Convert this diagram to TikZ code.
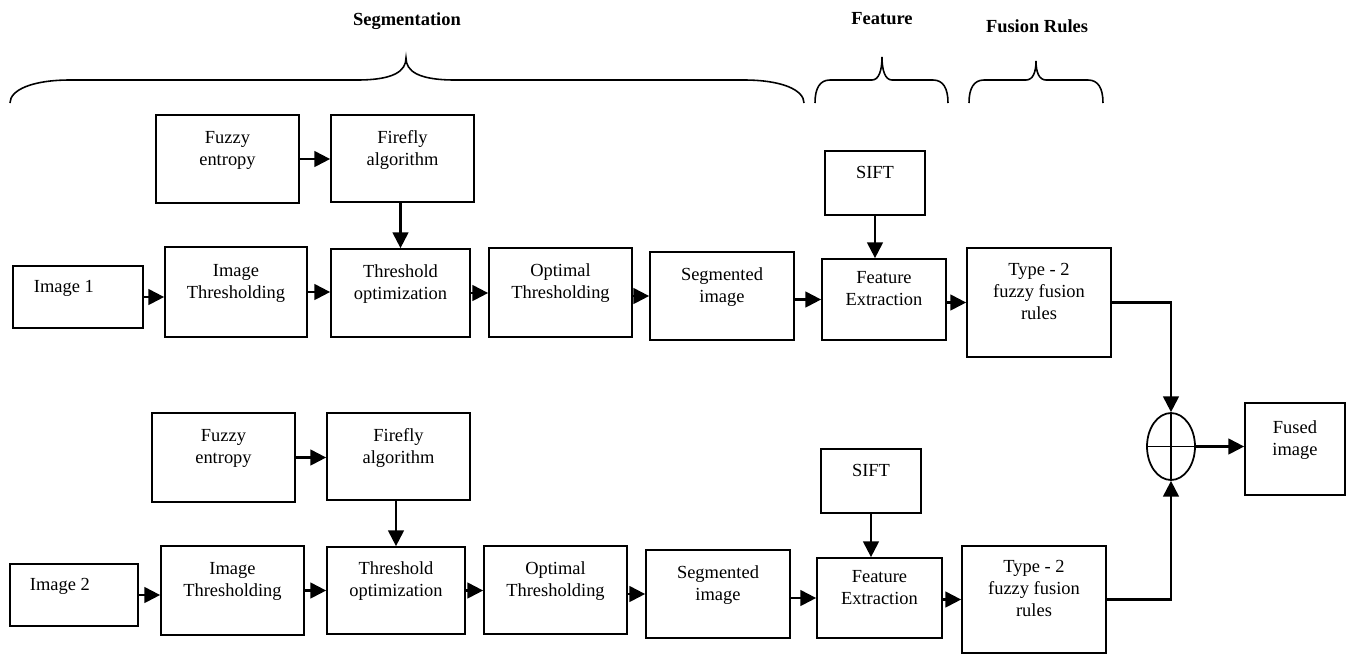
\documentclass[tikz,border=0pt]{standalone}
\usepackage{fontspec}
\setmainfont{Liberation Serif}
\usetikzlibrary{arrows.meta,shapes.geometric}

\begin{document}
\begin{tikzpicture}[x=0.02cm,y=-0.02cm,
  font=\fontsize{10.5}{12.5}\selectfont,
  box/.style={rectangle,draw,line width=1pt,align=center,inner sep=0pt},
  head/.style={font=\fontsize{10.5}{12.5}\selectfont\bfseries},
  arr/.style={line width=1.2pt,-{Triangle[length=9pt,width=9pt]}},
  brace/.style={line width=0.9pt}]
  \useasboundingbox (0,0) rectangle (1346,654);

  \node[head] (seg) at (407,21) {Segmentation};
  \node[head] (feat) at (882,19) {Feature};
  \node[head] (fus) at (1037,26) {Fusion Rules};
  \draw[brace] (10,103) .. controls (10,90) and (32,80) .. (70,80) -- (357,80)
    .. controls (394,80) and (406,71) .. (406,58) .. controls (406,71) and (418,80) .. (455,80)
    -- (744,80) .. controls (782,80) and (804,90) .. (804,103);
  \draw[brace] (815,103) .. controls (815,88) and (820,80) .. (830,80) -- (872,80)
    .. controls (879,80) and (882,70) .. (882,57) .. controls (882,70) and (885,80) .. (892,80)
    -- (933,80) .. controls (943,80) and (948,88) .. (948,103);
  \draw[brace] (969,103) .. controls (969,88) and (974,80) .. (984,80) -- (1026,80)
    .. controls (1033,80) and (1036,72) .. (1036,61) .. controls (1036,72) and (1039,80) .. (1046,80)
    -- (1088,80) .. controls (1098,80) and (1103,88) .. (1103,103);

  \node[box,minimum width=28.6mm,minimum height=17.6mm] (fz1) at (227.5,159) {Fuzzy\\entropy\\};
  \node[box,minimum width=28.6mm,minimum height=17.4mm] (ff1) at (402.5,158.5) {Firefly\\algorithm\\};
  \node[box,minimum width=26mm,minimum height=12.4mm] (im1) at (78,297) {Image 1\hspace*{16pt}\\};
  \node[box,minimum width=28.4mm,minimum height=18mm] (it1) at (236,292) {Image\\Thresholding\\};
  \node[box,minimum width=27.8mm,minimum height=17.6mm] (to1) at (400.5,293) {Threshold\\optimization\\};
  \node[box,minimum width=28.6mm,minimum height=17.8mm] (ot1) at (560.5,292.5) {Optimal\\Thresholding\\};
  \node[box,minimum width=28.8mm,minimum height=17.6mm] (sg1) at (722,296) {Segmented\\image\\};
  \node[box,minimum width=20mm,minimum height=12.8mm] (sf1) at (875,183) {SIFT\\};
  \node[box,minimum width=24.8mm,minimum height=16.2mm] (fe1) at (884,299.5) {Feature\\Extraction\\};
  \node[box,minimum width=28.8mm,minimum height=21.8mm] (ty1) at (1039,302.5) {Type - 2\\fuzzy fusion\\rules\\};

  \node[box,minimum width=28.6mm,minimum height=17.8mm] (fz2) at (223.5,457.5) {Fuzzy\\entropy\\};
  \node[box,minimum width=28.6mm,minimum height=17.4mm] (ff2) at (398.5,456.5) {Firefly\\algorithm\\};
  \node[box,minimum width=25.6mm,minimum height=12.4mm] (im2) at (74,595) {Image 2\hspace*{16pt}\\};
  \node[box,minimum width=28.6mm,minimum height=17.8mm] (it2) at (232.5,590.5) {Image\\Thresholding\\};
  \node[box,minimum width=27.6mm,minimum height=17.4mm] (to2) at (396,590.5) {Threshold\\optimization\\};
  \node[box,minimum width=28.6mm,minimum height=17.6mm] (ot2) at (555.5,590) {Optimal\\Thresholding\\};
  \node[box,minimum width=28.8mm,minimum height=17.6mm] (sg2) at (718,594) {Segmented\\image\\};
  \node[box,minimum width=20mm,minimum height=12.8mm] (sf2) at (871,481) {SIFT\\};
  \node[box,minimum width=25mm,minimum height=16mm] (fe2) at (879.5,598) {Feature\\Extraction\\};
  \node[box,minimum width=28.8mm,minimum height=21.4mm] (ty2) at (1034,599.5) {Type - 2\\fuzzy fusion\\rules\\};

  \node[ellipse,draw,line width=1pt,minimum width=9.6mm,minimum height=13.4mm,inner sep=0pt] (sum) at (1171,446.5) {};
  \node[box,minimum width=20mm,minimum height=18.4mm] (fu) at (1295,449) {Fused\\image\\};

  \draw[arr] (fz1.east) -- (fz1.east -| ff1.west);
  \draw[arr] (to1.north |- ff1.south) -- (to1.north);
  \draw[arr] (im1.east) -- (im1.east -| it1.west);
  \draw[arr] (it1.east) -- (it1.east -| to1.west);
  \draw[arr] (to1.east) -- (to1.east -| ot1.west);
  \draw[arr] (ot1.east |- sg1) -- (sg1.west);
  \draw[arr] (sg1.east |- fe1) -- (fe1.west);
  \draw[arr] (sf1.south) -- (sf1.south |- fe1.north);
  \draw[arr] (fe1.east |- ty1) -- (ty1.west);
  \draw[arr] (ty1.east) -| (sum.north);

  \draw[arr] (fz2.east) -- (fz2.east -| ff2.west);
  \draw[arr] (to2.north |- ff2.south) -- (to2.north);
  \draw[arr] (im2.east) -- (im2.east -| it2.west);
  \draw[arr] (it2.east) -- (it2.east -| to2.west);
  \draw[arr] (to2.east) -- (to2.east -| ot2.west);
  \draw[arr] (ot2.east |- sg2) -- (sg2.west);
  \draw[arr] (sg2.east |- fe2) -- (fe2.west);
  \draw[arr] (sf2.south) -- (sf2.south |- fe2.north);
  \draw[arr] (fe2.east |- ty2) -- (ty2.west);
  \draw[arr] (ty2.east) -| (sum.south);

  \draw[line width=1pt] (sum.north) -- (sum.south) (sum.west) -- (sum.east);
  \draw[arr] (sum.east) -- (sum.east -| fu.west);
\end{tikzpicture}
\end{document}
